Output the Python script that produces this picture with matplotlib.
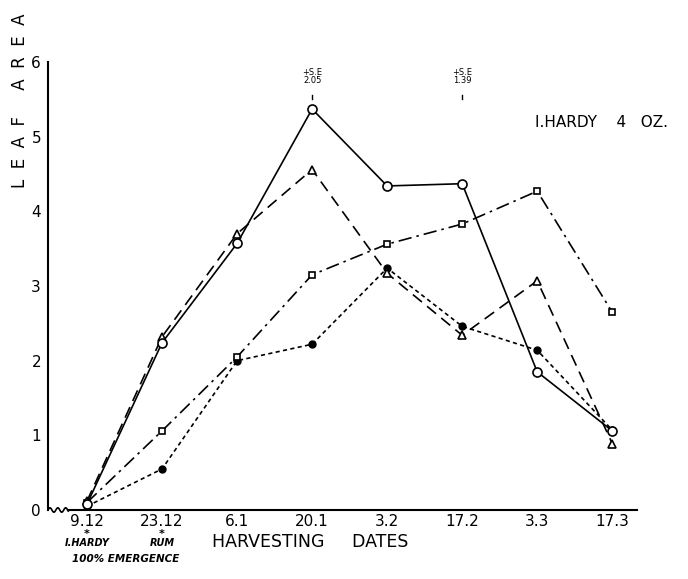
import matplotlib
matplotlib.use("Agg")
import matplotlib.pyplot as plt
import numpy as np

dates = ["9.12", "23.12", "6.1", "20.1", "3.2", "17.2", "3.3", "17.3"]
open_circle = [0.08, 2.24, 3.57, 5.37, 4.34, 4.37, 1.85, 1.06]
triangle = [0.12, 2.32, 3.70, 4.56, 3.17, 2.34, 3.07, 0.89]
square = [0.10, 1.06, 2.05, 3.15, 3.56, 3.83, 4.27, 2.65]
filled = [0.05, 0.55, 2.00, 2.22, 3.24, 2.46, 2.14, 1.07]
yticks = [0, 1, 2, 3, 4, 5, 6]

plt.rcParams['font.family'] = ['DejaVu Sans']
fig = plt.figure(figsize=(6.88, 5.79), dpi=100)
ax = fig.add_axes([48/688, (579-510)/579, 589/688, 448/579])
x = np.arange(len(dates))

lw = 1.2
ax.plot(x, filled, color='black', lw=lw, linestyle=(0, (2.5, 2.0)),
        marker='o', ms=5, mfc='black', mec='black')
ax.plot(x, square, color='black', lw=lw, linestyle=(0, (8, 3, 1.5, 3)),
        marker='s', ms=4.5, mfc='white', mec='black', mew=1.2)
ax.plot(x, triangle, color='black', lw=lw, linestyle=(0, (7, 4)),
        marker='^', ms=6, mfc='white', mec='black', mew=1.2)
ax.plot(x, open_circle, color='black', lw=lw, linestyle='-',
        marker='o', ms=6.5, mfc='white', mec='black', mew=1.2)

ax.set_xlim(-0.52, 7.33)
ax.set_ylim(0, 6)
ax.set_xticks(x)
ax.set_xticklabels(dates, fontsize=11)
ax.set_yticks(yticks)
ax.set_yticklabels([str(v) for v in yticks], fontsize=11)
ax.tick_params(axis='x', length=0, pad=3)
ax.tick_params(axis='y', length=0, pad=5)
for s in ['top', 'right']:
    ax.spines[s].set_visible(False)
ax.spines['left'].set_linewidth(1.5)
ax.spines['bottom'].set_linewidth(1.5)
ax.spines['bottom'].set_bounds(-0.25, 7.33)

# wavy break near origin
wx = np.linspace(-0.52, -0.25, 30)
wy = 0.03 * np.sin((wx + 0.52) * 60)
ax.plot(wx, wy, color='black', lw=1.2, clip_on=False)

# S.E. annotations
for xi, se in [(3, "2.05"), (5, "1.39")]:
    ax.text(xi, 5.86, "+S.E", ha='center', va='center', fontsize=6)
    ax.text(xi, 5.75, se, ha='center', va='center', fontsize=6)
    ax.plot([xi, xi], [5.50, 5.56], color='black', lw=1)

ax.text(5.97, 5.19, "I.HARDY    4   OZ.", ha='left', va='center', fontsize=11)

fig.text(20/688, 1 - 101/579, "L  E  A  F     A  R  E  A", rotation=90,
         ha='center', va='center', fontsize=12)
fig.text(310/688, 1 - 542/579, "HARVESTING     DATES",
         ha='center', va='center', fontsize=12.5)

# hand-written notes
fig.text(87/688, 1 - 534/579, "*", ha='center', va='center', fontsize=8, fontweight='bold')
fig.text(87/688, 1 - 543/579, "I.HARDY", ha='center', va='center', fontsize=7, fontweight='bold', style='italic')
fig.text(162/688, 1 - 534/579, "*", ha='center', va='center', fontsize=8, fontweight='bold')
fig.text(162/688, 1 - 543/579, "RUM", ha='center', va='center', fontsize=7, fontweight='bold', style='italic')
fig.text(126/688, 1 - 559/579, "100% EMERGENCE", ha='center', va='center', fontsize=7.5, fontweight='bold', style='italic')

fig.savefig("out.png", dpi=100)
